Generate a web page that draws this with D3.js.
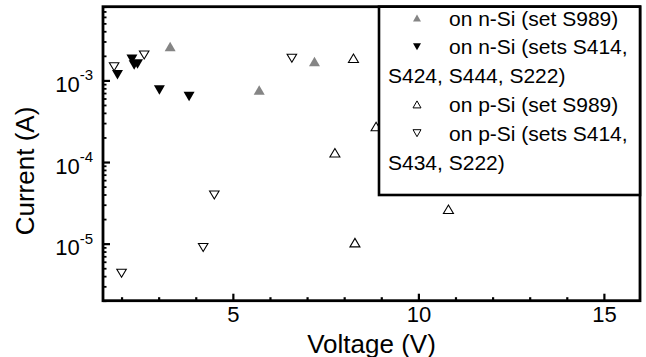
<!DOCTYPE html>
<html>
<head>
<meta charset="utf-8">
<script src="https://cdn.jsdelivr.net/npm/d3@7"></script>
<style>
  html, body { margin: 0; padding: 0; background: #fff; }
  svg { display: block; font-family: "Liberation Sans", Arial, sans-serif; }
</style>
</head>
<body>
<svg id="chart" width="646" height="357"></svg>
<script>
// Device current vs. applied voltage for the four sample groups
const voltsNSi989 = [3.31, 5.71, 7.20];
const currNSi989  = [2.6e-3, 7.65e-4, 1.70e-3];

const voltsNSiSets = [1.89, 2.28, 2.34, 2.43, 3.02, 3.82];
const currNSiSets  = [1.17e-3, 1.82e-3, 1.55e-3, 1.59e-3, 7.65e-4, 6.33e-4];

const voltsPSi989 = [7.75, 8.25, 8.29, 8.86, 10.81];
const currPSi989  = [1.30e-4, 1.87e-3, 1.03e-5, 2.72e-4, 2.64e-5];

const voltsPSiSets = [1.80, 2.00, 2.61, 4.20, 4.50, 6.59];
const currPSiSets  = [1.47e-3, 4.34e-6, 2.05e-3, 8.97e-6, 3.95e-5, 1.87e-3];

const xMajorTicks = [5, 10, 15];
const xMinorTicks = [2, 3, 4, 6, 7, 8, 9, 11, 12, 13, 14];
const yMajorExponents = [-5, -4, -3];

const legendLines = [
  { key: "nSi989",  text: "on n-Si (set S989)" },
  { key: "nSiSets", text: "on n-Si (sets S414," },
  { key: null,      text: "S424, S444, S222)" },
  { key: "pSi989",  text: "on p-Si (set S989)" },
  { key: "pSiSets", text: "on p-Si (sets S414," },
  { key: null,      text: "S434, S222)" }
];

const svg = d3.select("#chart");
const plotLeft = 103, plotRight = 640, plotTop = 6.7, plotBottom = 300.7;

const x = d3.scaleLinear().domain([1.5, 16]).range([plotLeft, plotRight + 1]);
const y = d3.scaleLog().domain([2e-6, 8e-3]).range([plotBottom, plotTop]);

// marker shapes, centred on their bounding box
function tri(w, h, up) {
  const s = up ? 1 : -1;
  return `M0,${-s * h / 2}L${w / 2},${s * h / 2}L${-w / 2},${s * h / 2}Z`;
}
const styles = {
  nSi989:  { up: true,  fill: "#858585", stroke: "none", w: 11, h: 9.5 },
  nSiSets: { up: false, fill: "#000",    stroke: "none", w: 11, h: 9.5 },
  pSi989:  { up: true,  fill: "#fff",    stroke: "#000", w: 10, h: 8.5 },
  pSiSets: { up: false, fill: "#fff",    stroke: "#000", w: 9.5, h: 8 }
};
const groups = [
  { key: "nSi989",  xs: voltsNSi989,  ys: currNSi989 },
  { key: "nSiSets", xs: voltsNSiSets, ys: currNSiSets },
  { key: "pSi989",  xs: voltsPSi989,  ys: currPSi989 },
  { key: "pSiSets", xs: voltsPSiSets, ys: currPSiSets }
];

const fontFamily = "'Liberation Sans', Arial, sans-serif";

// axes (ticks point inward)
const gx = svg.append("g").attr("transform", `translate(0,${plotBottom})`);
gx.call(d3.axisBottom(x).tickValues(xMinorTicks).tickSize(-3.5).tickFormat(""));
gx.select(".domain").remove();
const gxMaj = svg.append("g").attr("transform", `translate(0,${plotBottom})`);
gxMaj.call(d3.axisBottom(x).tickValues(xMajorTicks).tickSize(-7).tickPadding(6).tickFormat(d3.format("d")));
gxMaj.select(".domain").remove();
gx.selectAll(".tick line").attr("stroke", "#000").attr("stroke-width", 2.2);
gxMaj.selectAll(".tick line").attr("stroke", "#000").attr("stroke-width", 2.2);
gxMaj.selectAll("text").attr("font-size", 22).attr("fill", "#000").attr("font-family", fontFamily);

const yMinor = [];
[-6, -5, -4, -3].forEach(e => {
  for (let k = 2; k <= 9; k++) {
    const v = k * Math.pow(10, e);
    if (v >= 2e-6 && v <= 8e-3) yMinor.push(v);
  }
});
const gy = svg.append("g").attr("transform", `translate(${plotLeft},0)`);
gy.call(d3.axisLeft(y).tickValues(yMinor).tickSize(-3.5).tickFormat(""));
gy.select(".domain").remove();
const gyMaj = svg.append("g").attr("transform", `translate(${plotLeft},0)`);
gyMaj.call(d3.axisLeft(y).tickValues(yMajorExponents.map(e => Math.pow(10, e))).tickSize(-7).tickFormat(""));
gyMaj.select(".domain").remove();
gy.selectAll(".tick line").attr("stroke", "#000").attr("stroke-width", 1.8);
gyMaj.selectAll(".tick line").attr("stroke", "#000").attr("stroke-width", 2.2);
gyMaj.selectAll(".tick").each(function (d) {
  const t = d3.select(this).append("text")
    .attr("x", -10).attr("y", 11).attr("text-anchor", "end")
    .attr("fill", "#000").attr("font-size", 22).attr("font-family", fontFamily);
  t.append("tspan").text("10");
  t.append("tspan").attr("dy", -11.5).attr("font-size", 15).text(Math.round(Math.log10(d)));
});

// frame
svg.append("rect")
  .attr("x", plotLeft).attr("y", plotTop)
  .attr("width", plotRight - plotLeft).attr("height", plotBottom - plotTop)
  .attr("fill", "none").attr("stroke", "#000").attr("stroke-width", 2.8);

// data markers
groups.forEach(g => {
  const st = styles[g.key];
  svg.append("g").selectAll("path")
    .data(g.xs.map((v, i) => [v, g.ys[i]]))
    .join("path")
    .attr("transform", d => `translate(${x(d[0])},${y(d[1])})`)
    .attr("d", tri(st.w, st.h, st.up))
    .attr("fill", st.fill)
    .attr("stroke", st.stroke)
    .attr("stroke-width", 1.1);
});

// legend box
const lg = svg.append("g");
lg.append("rect")
  .attr("x", 379).attr("y", plotTop)
  .attr("width", plotRight - 379).attr("height", 195 - plotTop)
  .attr("fill", "#fff").attr("stroke", "#000").attr("stroke-width", 2.6);
const rowY = d3.scalePoint().domain(d3.range(legendLines.length)).range([18, 162]);
legendLines.forEach((line, i) => {
  const cy = rowY(i);
  if (line.key) {
    const st = styles[line.key];
    lg.append("path")
      .attr("transform", `translate(417,${cy})`)
      .attr("d", tri(8, 7, st.up))
      .attr("fill", st.fill).attr("stroke", st.stroke).attr("stroke-width", 1);
  }
  lg.append("text")
    .attr("x", line.key ? 449 : 388).attr("y", cy + 7.5)
    .attr("font-size", 21).attr("fill", "#000")
    .text(line.text);
});

// axis titles
svg.append("text")
  .attr("x", (plotLeft + plotRight) / 2).attr("y", 352.5)
  .attr("text-anchor", "middle").attr("font-size", 26).attr("fill", "#000")
  .text("Voltage (V)");
svg.append("text")
  .attr("transform", `translate(34,171) rotate(-90)`)
  .attr("text-anchor", "middle").attr("font-size", 26).attr("fill", "#000")
  .text("Current (A)");
</script>
</body>
</html>
